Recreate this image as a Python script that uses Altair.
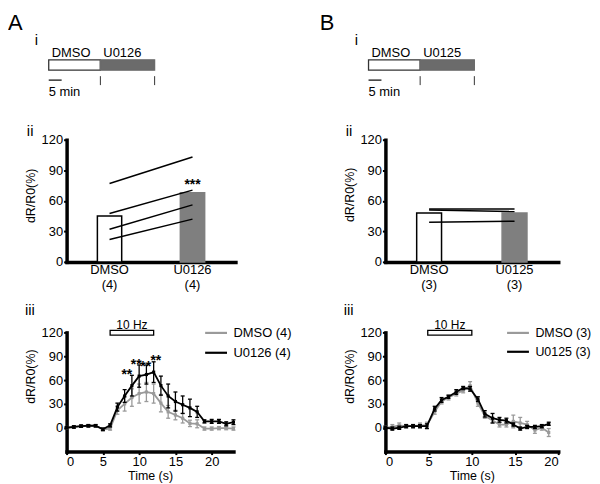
import altair as alt
import pandas as pd

FONT = "Liberation Sans"
GRAY = "#9a9a9a"
BAR_GRAY = "#7f7f7f"
SCHEM_GRAY = "#6b6b6b"

# ---------------- data ----------------
# panel i : protocol schematic (minutes)
schem_labels_A = ["DMSO", "U0126"]
schem_labels_B = ["DMSO", "U0125"]
schem_start_min = [0, 20]
schem_end_min = [20, 41]
scale_bar_min = [0, 5]

# panel ii : paired bar charts
barA_groups = ["DMSO", "U0126"]
barA_n = ["(4)", "(4)"]
barA_means = [45, 68]
barA_pre = [77, 47.5, 32, 22]
barA_post = [103, 70.5, 56, 42]
barA_sig = "***"
barA_sig_y = 72

barB_groups = ["DMSO", "U0125"]
barB_n = ["(3)", "(3)"]
barB_means = [48, 48]
barB_pre = [52, 51, 39]
barB_post = [52, 49.5, 40]

# panel iii : time courses
seriesA = ["DMSO (4)", "U0126 (4)"]
tA = [0, 1, 2, 3, 4, 5, 6, 7, 8, 9, 10, 11, 12, 13, 14, 15, 16, 17, 18, 19, 20, 21, 22, 23]
A_dmso_mean = [0, 1, 2, 2.5, 2.5, -2, -1, 22, 30, 38, 43, 45, 43, 31, 20, 16, 12, 5.5, 5, -1, -1, -0.5, -0.5, -1]
A_dmso_sem = [1.5, 1.5, 1.5, 1.5, 1.5, 2, 2, 5, 9, 11, 12, 12, 12, 11, 8, 6, 6, 4, 5, 2, 2, 2, 2, 2]
A_u_mean = [0, 1, 2, 2.5, 2.5, -2, 3, 26, 40, 53, 65, 67, 70, 53, 40, 33, 29, 25, 20, 8, 8, 8, 5, 7]
A_u_sem = [1.5, 1.5, 1.5, 1.5, 1.5, 1.5, 2, 5, 8, 13, 14, 12, 13, 12, 15, 12, 11, 11, 7, 2, 2.5, 2.5, 2.5, 3]
A_stim = [6, 12]
A_star_t = [8.3, 9.6, 10.9, 12.3]
A_star_y = [61, 74, 72, 79]

seriesB = ["DMSO (3)", "U0125 (3)"]
tB = [0, 0.8, 1.6, 2.4, 3.2, 4.0, 4.8, 5.7, 6.5, 7.3, 8.2, 9.0, 9.8, 10.7, 11.5, 12.4,
      13.2, 14.0, 14.8, 15.6, 16.4, 17.3, 18.1, 18.9]
B_dmso_mean = [0, 1, 3, 2, 2, 3, 3, 20, 33, 38, 43, 47, 53, 31, 15, 9, 4, 4, 8, 6, 4, -3, 0, -6]
B_dmso_sem = [2, 3, 3, 2, 2, 3, 4, 3, 3, 3, 3, 3, 5, 4, 3, 3, 3, 3, 8, 7, 4, 4, 3, 5]
B_u_mean = [0, -1, 0, 2, 2, 2, 2, 24, 35, 39, 45, 50, 49, 36, 17.5, 12, 10, 9, 4, -1, 1, 1, 2, 5]
B_u_sem = [2, 2, 2, 2, 2, 2, 3, 3, 3, 2, 3, 2, 3, 3, 4, 6, 3, 3, 2, 2, 2, 2, 2, 2]
B_stim = [4.9, 10.0]

stim_label = "10 Hz"
y_ticks = [0, 30, 60, 90, 120]
time_ticks = [0, 5, 10, 15, 20]


def label_chart(text, x, y, size):
    return alt.Chart(pd.DataFrame({"txt": [text]})).mark_text(
        align="left", baseline="alphabetic", fontSize=size, font=FONT, color="black"
    ).encode(text="txt:N", x=alt.value(x), y=alt.value(y))


def schematic(labels, domain, width, letter, letter_x, roman_x):
    df = pd.DataFrame({"label": labels, "start": schem_start_min, "end": schem_end_min})
    xs = alt.Scale(domain=domain, nice=False, zero=False)
    rect = alt.Chart(df).mark_rect(strokeWidth=1.3).encode(
        x=alt.X("start:Q", scale=xs, axis=None), x2="end:Q",
        y=alt.value(50.5), y2=alt.value(61),
        fill=alt.Fill("label:N", scale=alt.Scale(domain=labels, range=["white", SCHEM_GRAY]), legend=None),
        stroke=alt.Stroke("label:N", scale=alt.Scale(domain=labels, range=["#333333", SCHEM_GRAY]), legend=None),
    )
    names = alt.Chart(df).mark_text(align="left", baseline="alphabetic", dx=3, fontSize=13,
                                    font=FONT, color="black").encode(
        x=alt.X("start:Q", scale=xs, axis=None), y=alt.value(48), text="label:N")
    ends = alt.Chart(df).mark_rule(strokeWidth=1, color="#333333").encode(
        x=alt.X("end:Q", scale=xs, axis=None), y=alt.value(67), y2=alt.value(76))
    sbdf = pd.DataFrame({"a": [scale_bar_min[0]], "b": [scale_bar_min[1]],
                         "txt": [f"{scale_bar_min[1]} min"]})
    sb = alt.Chart(sbdf).mark_rule(strokeWidth=1.5, color="#333333").encode(
        x=alt.X("a:Q", scale=xs, axis=None), x2="b:Q", y=alt.value(71))
    sbt = alt.Chart(sbdf).mark_text(align="left", baseline="alphabetic", fontSize=13,
                                    font=FONT, color="black").encode(
        x=alt.X("a:Q", scale=xs, axis=None), y=alt.value(87), text="txt:N")
    return alt.layer(rect, names, ends, sb, sbt,
                     label_chart(letter, letter_x, 20.5, 22),
                     label_chart("i", roman_x, 36, 15)).properties(width=width, height=60)


def bar_chart(groups, ns, means, pre, post, width, pin, pout, sig, sig_y, title_y):
    labels = [f"{g}\n{n}" for g, n in zip(groups, ns)]
    bars = pd.DataFrame({"label": labels, "value": means})
    rows = []
    for i, (a, b) in enumerate(zip(pre, post)):
        rows.append({"pair": i, "label": labels[0], "value": a})
        rows.append({"pair": i, "label": labels[1], "value": b})
    pairs = pd.DataFrame(rows)
    xenc = alt.X("label:N", sort=labels,
                 scale=alt.Scale(domain=labels, paddingInner=pin, paddingOuter=pout),
                 axis=alt.Axis(title=None, labelAngle=0, ticks=False, tickSize=0, labelPadding=2,
                               labelExpr="split(datum.label, '\\n')", labelLineHeight=15,
                               labelFontSize=13))
    yaxis = alt.Axis(values=y_ticks, title="dR/R0(%)", titleX=-29, titleY=title_y)
    yenc = alt.Y("value:Q", scale=alt.Scale(domain=[0, 120], nice=False), axis=yaxis)
    b = alt.Chart(bars).mark_bar(strokeWidth=1.5).encode(
        x=xenc, y=yenc,
        fill=alt.Fill("label:N", scale=alt.Scale(domain=labels, range=["white", BAR_GRAY]), legend=None),
        stroke=alt.Stroke("label:N", scale=alt.Scale(domain=labels, range=["black", BAR_GRAY]), legend=None),
    )
    ln = alt.Chart(pairs).mark_line(color="black", strokeWidth=1.5).encode(
        x=xenc, y=yenc, detail="pair:N")
    layers = [b, ln]
    if sig:
        sdf = pd.DataFrame({"label": [labels[1]], "value": [sig_y], "txt": [sig]})
        layers.append(alt.Chart(sdf).mark_text(fontSize=14, fontWeight="bold", baseline="alphabetic",
                                               font=FONT, color="black").encode(
            x=xenc, y=yenc, text="txt:N"))
    layers.append(label_chart("ii", -40, -4, 15))
    return alt.layer(*layers).properties(width=width, height=123)


def time_chart(t, names, means, sems, xdomain, width, stim, star_t, star_y, legend_x, legend_font):
    rows = []
    for name, m, s in zip(names, means, sems):
        for ti, mi, si in zip(t, m, s):
            rows.append({"t": ti, "series": name, "mean": mi, "lo": mi - si, "hi": mi + si})
    df = pd.DataFrame(rows)
    xs = alt.Scale(domain=xdomain, nice=False, zero=False)
    xaxis = alt.Axis(values=time_ticks, title="Time (s)", titlePadding=1, labelPadding=1)
    ys = alt.Scale(domain=[-30, 120], nice=False)
    yaxis = alt.Axis(values=y_ticks, title="dR/R0(%)", titleX=-29, titleY=44)

    def X(f):
        return alt.X(f, type="quantitative", scale=xs, axis=xaxis)

    def Y(f):
        return alt.Y(f, type="quantitative", scale=ys, axis=yaxis)

    cscale = alt.Scale(domain=names, range=[GRAY, "black"])
    legend = alt.Legend(title=None, orient="none", legendX=legend_x, legendY=-12,
                        symbolType="stroke", symbolSize=484, symbolStrokeWidth=2.2,
                        symbolOpacity=1, labelFontSize=legend_font, labelFont=FONT,
                        labelColor="black", labelOffset=5, rowPadding=-3, padding=0)
    color = alt.Color("series:N", scale=cscale, legend=legend)
    layers = []
    for name in names:
        base = alt.Chart(df).transform_filter(alt.datum.series == name)
        layers.append(base.mark_line(strokeWidth=1.8, opacity=1).encode(x=X("t"), y=Y("mean"), color=color))
        layers.append(base.mark_rule(strokeWidth=1.3).encode(x=X("t"), y=Y("lo"), y2="hi:Q", color=color))
        layers.append(base.mark_tick(orient="horizontal", size=4, thickness=1.3, opacity=1).encode(
            x=X("t"), y=Y("lo"), color=color))
        layers.append(base.mark_tick(orient="horizontal", size=4, thickness=1.3, opacity=1).encode(
            x=X("t"), y=Y("hi"), color=color))
        layers.append(base.mark_square(size=10, opacity=1).encode(x=X("t"), y=Y("mean"), color=color))
    sdf = pd.DataFrame({"t": [stim[0]], "t2": [stim[1]], "y": [116.5], "y2": [122.5],
                        "ty": [124], "txt": [stim_label]})
    layers.append(alt.Chart(sdf).mark_rect(fill="white", stroke="black", strokeWidth=1.3).encode(
        x=X("t"), x2="t2:Q", y=Y("y"), y2="y2:Q"))
    layers.append(alt.Chart(sdf).transform_calculate(mid="(datum.t + datum.t2) / 2").mark_text(
        fontSize=12, baseline="alphabetic", font=FONT, color="black").encode(
        x=X("mid"), y=Y("ty"), text="txt:N"))
    if star_t:
        stdf = pd.DataFrame({"t": star_t, "y": star_y, "txt": ["**"] * len(star_t)})
        layers.append(alt.Chart(stdf).mark_text(fontSize=14, fontWeight="bold", baseline="alphabetic",
                                                font=FONT, color="black").encode(
            x=X("t"), y=Y("y"), text="txt:N"))
    layers.append(label_chart("iii", -42, -18, 15))
    return alt.layer(*layers).properties(width=width, height=120)


schemA = schematic(schem_labels_A, [6.92, 72.3], 170, "A", -59, -32)
schemB = schematic(schem_labels_B, [6.54, 73.5], 174, "B", -66, -31)
barA = bar_chart(barA_groups, barA_n, barA_means, barA_pre, barA_post, 170, 0.707, 0.371,
                 barA_sig, barA_sig_y, 56)
barB = bar_chart(barB_groups, barB_n, barB_means, barB_pre, barB_post, 174, 0.709, 0.366,
                 None, None, 55)
timeA = time_chart(tA, seriesA, [A_dmso_mean, A_u_mean], [A_dmso_sem, A_u_sem], [0, 23], 168,
                   A_stim, A_star_t, A_star_y, 138, 13)
timeB = time_chart(tB, seriesB, [B_dmso_mean, B_u_mean], [B_dmso_sem, B_u_sem], [0, 20], 174,
                   B_stim, None, None, 121, 12.5)

chart = alt.concat(
    schemA, schemB, barA, barB, timeA, timeB,
    columns=2, spacing={"row": 71, "column": 151}, bounds="flush", align="each",
).resolve_scale(
    x="independent", y="independent", color="independent", fill="independent", stroke="independent"
).resolve_legend(color="independent").properties(
    padding=0, background="white"
).configure_view(strokeWidth=0).configure_axis(
    domainColor="black", domainWidth=3.5, domainCap="square", tickColor="black", tickWidth=2,
    tickSize=3, labelFont=FONT, labelFontSize=13, labelColor="black", titleFont=FONT,
    titleFontSize=12.5, titleFontWeight="normal", titleColor="black", grid=False, labelPadding=1,
)

chart.save("out.html", embed_options={"renderer": "svg", "actions": False})
